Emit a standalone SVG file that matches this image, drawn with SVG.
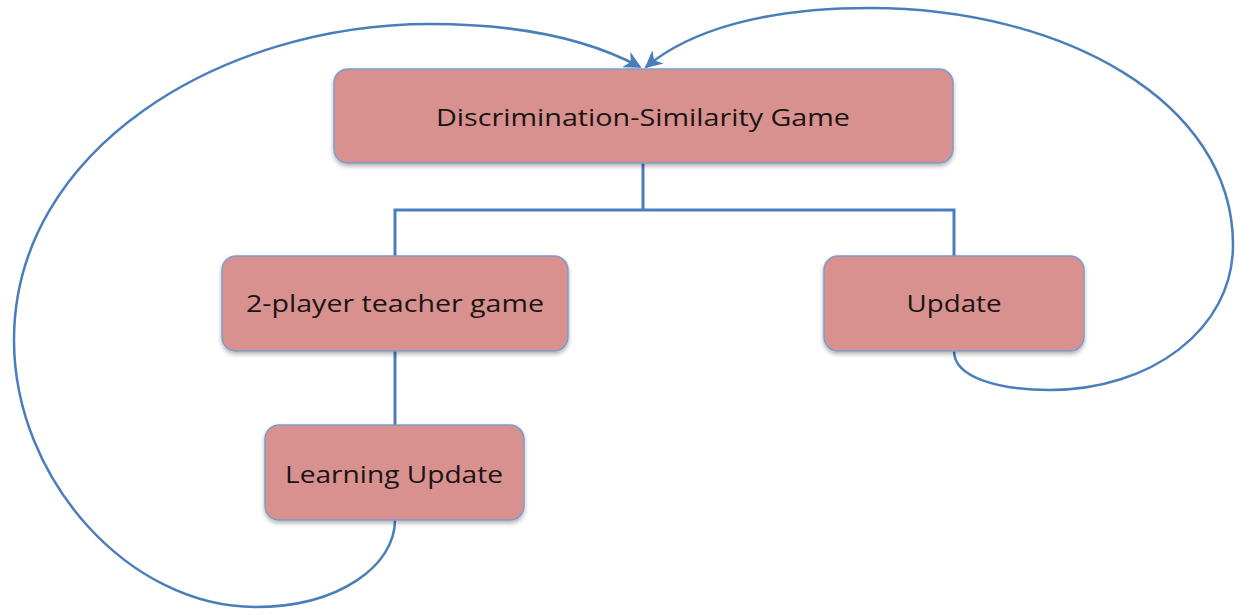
<svg xmlns="http://www.w3.org/2000/svg" width="1238" height="615" viewBox="0 0 1238 615">
  <style>
    .node rect { fill: #d8918f; stroke: #7f9cc8; stroke-width: 1.5; filter: url(#shadow); }
    .node text { font-family: "Open Sans", "Liberation Sans", sans-serif; font-size: 23px; fill: #1a1414; text-anchor: middle; }
    .wire { fill: none; stroke: #4a7ebb; stroke-width: 3; }
    .loop { fill: none; stroke: #4a7ebb; stroke-width: 2.5; marker-end: url(#head); }
  </style>
  <defs>
    <filter id="shadow" x="-5%" y="-10%" width="110%" height="130%">
      <feDropShadow dx="0" dy="2.5" stdDeviation="2" flood-color="#000" flood-opacity="0.3"/>
    </filter>
    <marker id="head" viewBox="0 0 10 10" refX="9" refY="5" markerWidth="7" markerHeight="7" orient="auto" markerUnits="strokeWidth">
      <path d="M0,0 L10,5 L0,10 L3,5 Z" fill="#4a7ebb"/>
    </marker>
  </defs>

  <!-- connectors -->
  <g id="connectors">
    <path class="wire" d="M643,163 V210 M395,256 V210 H954 V256"/>
    <path class="wire" d="M395,351 V425"/>
    <!-- feedback loop from Learning Update back to the game -->
    <path class="loop" d="M395,520 C395,565 340,607 255,607 C130,607 14,480 14,340 C14,150 220,24 430,24 C520,24 590,40 640,67"/>
    <!-- feedback loop from Update back to the game -->
    <path class="loop" d="M954,351 C954,378 1000,390 1050,390 C1150,390 1233,330 1233,245 C1233,100 1060,8 870,8 C765,8 690,30 646,67"/>
  </g>

  <g id="node-game" class="node">
    <rect x="334" y="69" width="619" height="94" rx="14"/>
    <text x="643" y="126" textLength="414" lengthAdjust="spacingAndGlyphs">Discrimination-Similarity Game</text>
  </g>
  <g id="node-teacher" class="node">
    <rect x="222" y="256" width="346" height="95" rx="14"/>
    <text x="395" y="312" textLength="298" lengthAdjust="spacingAndGlyphs">2-player teacher game</text>
  </g>
  <g id="node-update" class="node">
    <rect x="824" y="256" width="260" height="95" rx="14"/>
    <text x="954" y="312" textLength="95" lengthAdjust="spacingAndGlyphs">Update</text>
  </g>
  <g id="node-learning" class="node">
    <rect x="265" y="425" width="259" height="95" rx="14"/>
    <text x="394" y="483" textLength="218" lengthAdjust="spacingAndGlyphs">Learning Update</text>
  </g>
</svg>
